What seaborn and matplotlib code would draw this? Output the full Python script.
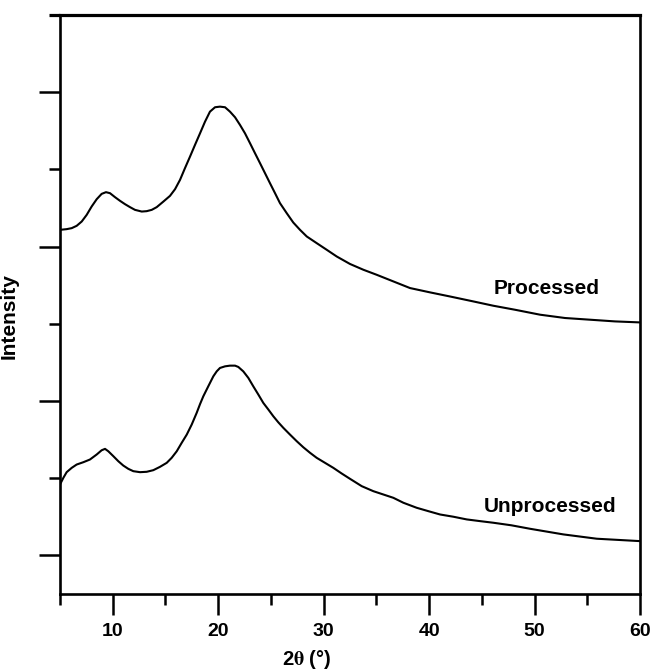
import matplotlib
matplotlib.use("Agg")
import matplotlib.pyplot as plt
import seaborn as sns
import pandas as pd

# ---- data ----
processed_2theta = [5.00, 5.63, 6.11, 6.58, 7.06, 7.53, 8.00, 8.48, 8.95, 9.36, 9.74,
                    10.22, 10.69, 11.16, 11.64, 12.11, 12.75, 13.22, 13.70, 14.17,
                    14.80, 15.43, 15.91, 16.38, 16.85, 17.33, 17.80, 18.28, 18.75,
                    19.22, 19.70, 20.17, 20.65, 21.12, 21.60, 22.07, 22.54, 23.02,
                    23.49, 23.97, 24.44, 24.91, 25.39, 25.86, 26.50, 27.12, 27.76,
                    28.40, 29.34, 30.29, 31.24, 32.50, 33.77, 35.03, 36.61, 38.19,
                    40.09, 41.98, 44.19, 46.09, 48.15, 50.52, 52.89, 55.26, 57.63,
                    60.00]
processed_int = [5.217, 5.226, 5.239, 5.269, 5.325, 5.411, 5.519, 5.614, 5.683, 5.705,
                 5.692, 5.640, 5.593, 5.550, 5.511, 5.476, 5.454, 5.459, 5.476, 5.511,
                 5.583, 5.657, 5.744, 5.864, 6.016, 6.166, 6.317, 6.468, 6.618,
                 6.748, 6.805, 6.813, 6.805, 6.748, 6.675, 6.576, 6.468, 6.339,
                 6.210, 6.080, 5.951, 5.822, 5.692, 5.563, 5.433, 5.312, 5.217,
                 5.131, 5.045, 4.959, 4.872, 4.775, 4.700, 4.635, 4.549, 4.463,
                 4.407, 4.354, 4.290, 4.234, 4.182, 4.118, 4.075, 4.053, 4.031,
                 4.018]

unprocessed_2theta = [5.00, 5.32, 5.63, 6.11, 6.58, 7.21, 7.84, 8.48, 8.95, 9.27, 9.58,
                      10.06, 10.53, 11.00, 11.48, 11.95, 12.59, 13.22, 13.85, 14.48,
                      15.12, 15.59, 16.07, 16.54, 17.02, 17.49, 17.96, 18.28, 18.59,
                      19.06, 19.54, 19.86, 20.17, 20.65, 21.12, 21.60, 21.91, 22.38,
                      22.86, 23.33, 23.81, 24.28, 24.76, 25.23, 25.70, 26.18, 26.81,
                      27.45, 28.07, 28.71, 29.34, 30.13, 30.92, 31.71, 32.50, 33.61,
                      34.71, 35.66, 36.61, 37.56, 38.82, 39.93, 41.04, 42.30, 43.57,
                      44.83, 46.09, 47.80, 49.57, 52.73, 55.90, 60.00]
unprocessed_int = [1.918, 2.005, 2.078, 2.134, 2.177, 2.207, 2.242, 2.307, 2.362, 2.380,
                   2.349, 2.285, 2.220, 2.164, 2.121, 2.091, 2.078, 2.083, 2.104, 2.147,
                   2.199, 2.264, 2.349, 2.458, 2.565, 2.695, 2.846, 2.960, 3.061,
                   3.190, 3.320, 3.384, 3.428, 3.449, 3.458, 3.458, 3.441, 3.384,
                   3.299, 3.190, 3.083, 2.975, 2.889, 2.802, 2.724, 2.652, 2.565,
                   2.479, 2.401, 2.329, 2.264, 2.199, 2.134, 2.061, 1.992, 1.897,
                   1.832, 1.789, 1.746, 1.682, 1.617, 1.573, 1.530, 1.501, 1.466,
                   1.444, 1.423, 1.390, 1.345, 1.272, 1.216, 1.185]

series_labels = ["Processed", "Unprocessed"]
x_major_ticks = [10, 20, 30, 40, 50, 60]
x_minor_ticks = [5, 15, 25, 35, 45, 55]
y_major_ticks = [1, 3, 5, 7]
y_minor_ticks = [2, 4, 6]

df = pd.concat([
    pd.DataFrame({"two_theta": processed_2theta, "intensity": processed_int,
                  "sample": series_labels[0]}),
    pd.DataFrame({"two_theta": unprocessed_2theta, "intensity": unprocessed_int,
                  "sample": series_labels[1]}),
], ignore_index=True)

# ---- style ----
sns.set_style("ticks")
plt.rcParams["font.family"] = ["Liberation Sans", "DejaVu Sans"]
plt.rcParams["font.weight"] = "bold"
plt.rcParams["text.color"] = "black"
plt.rcParams["axes.labelcolor"] = "black"
plt.rcParams["xtick.color"] = "black"
plt.rcParams["ytick.color"] = "black"
plt.rcParams["mathtext.fontset"] = "stix"

fig = plt.figure(figsize=(6.55, 6.72), dpi=100)
ax = fig.add_axes([60 / 655, 78 / 672, 580 / 655, 579 / 672])

sns.lineplot(data=df, x="two_theta", y="intensity", units="sample", estimator=None,
             color="black", linewidth=1.5, sort=False, ax=ax, legend=False)

ax.set_xlim(5, 60)
ax.set_ylim(0.5, 8.0)

ax.set_xticks(x_major_ticks)
ax.set_xticklabels([str(t) for t in x_major_ticks], fontsize=14, fontweight="bold")
ax.set_xticks(x_minor_ticks, minor=True)
ax.set_yticks(y_major_ticks)
ax.set_yticklabels([])
ax.set_yticks(y_minor_ticks, minor=True)

ax.tick_params(axis="both", which="major", length=15, width=1.8, direction="out",
               color="black", pad=6)
ax.tick_params(axis="both", which="minor", length=8, width=1.8, direction="out",
               color="black")

for side in ["left", "right", "top", "bottom"]:
    ax.spines[side].set_visible(True)
    ax.spines[side].set_linewidth(1.9)
    ax.spines[side].set_color("black")
ax.spines["top"].set_linewidth(2.3)
# top frame line extends slightly left of the left spine
ax.plot([-0.019, 0.0], [1.0, 1.0], transform=ax.transAxes, color="black",
        linewidth=2.3, clip_on=False, solid_capstyle="butt")

ax.set_xlabel(r"2$\mathrm{\theta}$ (°)", fontsize=14.5, fontweight="bold")
ax.xaxis.set_label_coords(0.426, -0.093)
ax.set_ylabel("Intensity", fontsize=15, fontweight="bold")
ax.yaxis.set_label_coords(-0.072, 0.48)

ax.text(51.1, 4.454, series_labels[0], fontsize=15, fontweight="bold",
        ha="center", va="center")
ax.text(51.5, 1.634, series_labels[1], fontsize=15, fontweight="bold",
        ha="center", va="center")

fig.savefig("out.png", dpi=100)
